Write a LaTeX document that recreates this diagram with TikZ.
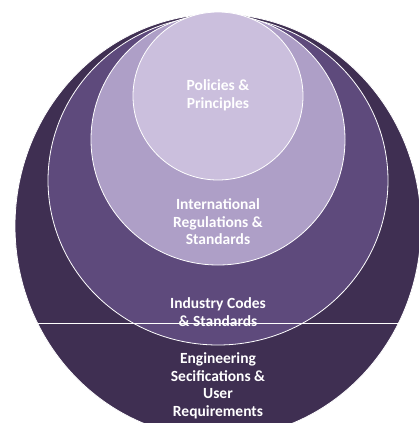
\documentclass[tikz,border=0pt]{standalone}
\usepackage{fontspec}
\setmainfont{Carlito}
\begin{document}
\begin{tikzpicture}[x=1pt,y=-1pt,
  ring/.style={draw=white, line width=0.8pt},
  lbl/.style={text=white, font=\bfseries\fontsize{15.5}{17.5}\selectfont, align=center, inner sep=0pt}]
\useasboundingbox (0,0) rectangle (419,423);
\clip (0,0) rectangle (419,423);
\definecolor{c1}{HTML}{3F2F52}
\definecolor{c2}{HTML}{5E4A7C}
\definecolor{c3}{HTML}{AE9FC7}
\definecolor{c4}{HTML}{CBBFDD}
\fill[white] (0,0) rectangle (419,423);
\path[ring, fill=c1] (218,226) ellipse [x radius=203, y radius=212];
\path[ring, fill=c2] (218,180.5) ellipse [x radius=170, y radius=164.5];
\path[ring, fill=c3] (218,139.5) ellipse [x radius=127, y radius=125.5];
\path[ring, fill=c4] (218,96) ellipse [x radius=85, y radius=84];
\coordinate (la) at (38,323);
\coordinate (lb) at (399,323);
\draw[white, line width=0.6pt] (la) -- (lb);
\node[lbl] (p) at (218,95.5) {Policies \&\\Principles};
\node[lbl] (i) at (218,222) {International\\Regulations \&\\Standards};
\node[lbl] (c) at (218,312) {Industry Codes\\\& Standards};
\node[lbl] (e) at (218,386) {Engineering\\Secifications \&\\User\\Requirements};
\end{tikzpicture}
\end{document}
